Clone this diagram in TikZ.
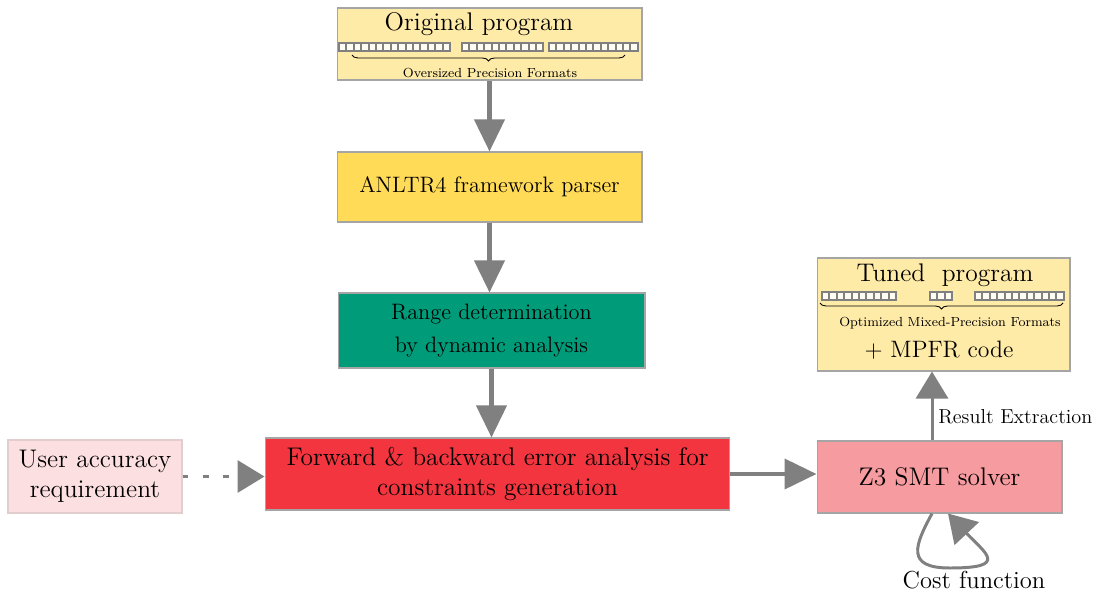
\documentclass[tikz,border=0pt]{standalone}
\usepackage{tikz}
\usepackage{xcolor}
\usetikzlibrary{arrows.meta}
\usetikzlibrary{calc}
\usetikzlibrary{decorations.pathreplacing}
\usetikzlibrary{positioning}

\definecolor{paleyellow}{RGB}{255,235,168}
\definecolor{parseryellow}{RGB}{255,219,88}
\definecolor{rangegreen}{RGB}{0,155,120}
\definecolor{errorred}{RGB}{242,53,63}
\definecolor{smtpink}{RGB}{246,155,160}
\definecolor{userpink}{RGB}{252,223,224}
\definecolor{boxline}{RGB}{165,165,165}
\definecolor{flowgray}{RGB}{128,128,128}

\tikzset{
  box/.style={draw=boxline, line width=0.6pt, rectangle, inner sep=0pt, align=center,
    font=\fontsize{14.5}{17}\selectfont},
  flow/.style={draw=flowgray, line width=2.3pt, -{Triangle[length=0.64cm,width=0.6cm]}},
  bitcell/.style={draw=flowgray, line width=1.1pt, fill=white!85!paleyellow},
  fmtbrace/.style={decorate, decoration={brace, mirror, amplitude=0.12cm}, line width=0.5pt},
  title/.style={font=\fontsize{14.5}{16}\selectfont, inner sep=0pt},
  small/.style={font=\fontsize{7.5}{9}\selectfont, inner sep=0pt}
}

% row of bit cells: left x, top y, number of cells
\newcommand{\bitrow}[3]{%
  \foreach \k in {1,...,#3}
    \draw[bitcell] ({#1+(\k-1)*7.4},#2) rectangle ++(7.4,8);
}

\begin{document}
\begin{tikzpicture}[x=0.02cm, y=-0.02cm]
\useasboundingbox (0,0) rectangle (1099,592);
% Original program (node)
\node[box, fill=paleyellow, minimum width=6.1cm, minimum height=1.44cm] (orig) at (489.5,44) {};
\node[title] (origtitle) at (479,24) {Original program};
\bitrow{339}{43}{15}
\bitrow{462}{43}{11}
\bitrow{549}{43}{12}
\draw[fmtbrace] (352,55) -- (625,55);
\node[small] (origfmt) at (490,73) {Oversized Precision Formats};
% Parser (node)
\node[box, fill=parseryellow, minimum width=6.1cm, minimum height=1.4cm, font=\fontsize{12.7}{15}\selectfont] (parser) at (489.5,187) {ANLTR4 framework parser};
% Range analysis (node)
\node[box, fill=rangegreen, minimum width=6.14cm, minimum height=1.5cm, font=\fontsize{12.7}{19}\selectfont] (range) at (491.5,330.5) {Range determination\\by dynamic analysis};
% Error analysis (node)
\node[box, fill=errorred, minimum width=9.3cm, minimum height=1.44cm] (fwd) at (497.5,474) {Forward \& backward error analysis for\\constraints generation};
% User requirement (node)
\node[box, draw=userpink!70!boxline, fill=userpink, minimum width=3.48cm, minimum height=1.46cm] (user) at (95,476.5) {User accuracy\\requirement};
% Solver (node)
\node[box, fill=smtpink, minimum width=4.9cm, minimum height=1.44cm] (z3) at (939.5,477) {Z3 SMT solver};
% Tuned program (node)
\node[box, fill=paleyellow, minimum width=5.06cm, minimum height=2.26cm] (tuned) at (943.5,314.5) {};
\node[title] (tunedtitle) at (945,275) {Tuned\ \ program};
\bitrow{822}{292}{10}
\bitrow{930}{292}{3}
\bitrow{975}{292}{12}
\draw[fmtbrace] (820,303) -- (1063,303);
\node[small] (tunedfmt) at (950,323) {Optimized Mixed-Precision Formats};
\node[title, font=\fontsize{13.5}{15}\selectfont] (mpfr) at (939,350) {+ MPFR code};
% Arrows
\draw[flow] (orig) -- (parser);
\draw[flow] (parser.south) -- (parser.south |- range.north);
\draw[flow] (range.south) -- (range.south |- fwd.north);
\draw[flow, line width=1.9pt, dash pattern=on 3.4pt off 8pt, -{Triangle[length=0.54cm,width=0.64cm]}] (user.east) -- (user.east -| fwd.west);
\draw[flow] (fwd.east) -- (fwd.east -| z3.west);
\draw[flow, line width=1.7pt, -{Triangle[length=0.54cm,width=0.64cm]}] ($(z3.north)+(-7.5,0)$) -- ($(z3.north |- tuned.south)+(-7.5,0)$);
\node[anchor=west, inner sep=0pt, font=\fontsize{11.5}{13}\selectfont] (extract) at (938,417) {Result Extraction};
% Cost function loop
\coordinate (loopout) at ($(z3.south)+(-7.5,0)$);
\coordinate (loopin) at ($(z3.south)+(8.5,0)$);
\draw[flow, line width=1.7pt, -{Triangle[length=0.55cm,width=0.66cm]}] (loopout) .. controls (915,545) and (905,568) .. (950,568) .. controls (1010,568) and (985,553) .. (loopin);
\node[title, font=\fontsize{14}{16}\selectfont] (cost) at (974,580) {Cost function};
\end{tikzpicture}
\end{document}
